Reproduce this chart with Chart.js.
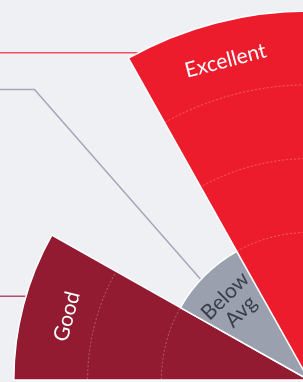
<!DOCTYPE html>
<html>
<head>
<meta charset="utf-8">
<script src="https://cdn.jsdelivr.net/npm/chart.js@4"></script>
<style>
  html, body { margin: 0; padding: 0; width: 303px; height: 382px; overflow: hidden; background: #eef0f4; }
  #wrap { position: absolute; left: -60px; top: 11px; }
</style>
</head>
<body>
<div id="wrap"><canvas id="chart" width="738" height="738"></canvas></div>
<script>
// ratings drawn as a quarter polar area, centre sits in the bottom-right corner
const categories = ['Good', 'Below Avg', 'Excellent'];
const ratings = [4, 2, 5];
const sliceAngles = [29.4, 31.3, 29.3];   // degrees per slice
const scaleMax = 5;

const fillColors = ['#921b31', '#9ba0ae', '#ed1c2c'];
const textColors = ['#ffffff', '#3b3e4b', '#ffffff'];
const leaderColors = ['#b0506a', '#a3a7b7', '#f0505c'];

const sliceDecor = {
    id: 'sliceDecor',
    beforeDatasetsDraw(chart, args, opts) {
        // leader lines running off to the left edge
        const ctx = chart.ctx;
        const arcs = chart.getDatasetMeta(0).data;
        ctx.save();
        ctx.lineWidth = 1.5;
        arcs.forEach((el, i) => {
            const p = el.getProps(['x', 'y', 'startAngle', 'endAngle', 'outerRadius'], true);
            const lead = opts.leaders[i];
            const a = p.startAngle + (p.endAngle - p.startAngle) * lead.frac;
            const sx = p.x + Math.cos(a) * p.outerRadius;
            const sy = p.y + Math.sin(a) * p.outerRadius;
            const ky = sy - lead.rise;
            const kx = sx - lead.rise / Math.tan(opts.slope * Math.PI / 180);
            ctx.strokeStyle = leaderColors[i];
            ctx.beginPath();
            ctx.moveTo(sx, sy);
            ctx.lineTo(kx, ky);
            ctx.lineTo(-100, ky);
            ctx.stroke();
        });
        ctx.restore();
    },
    afterDatasetsDraw(chart, args, opts) {
        const ctx = chart.ctx;
        const scale = chart.scales.r;
        const arcs = chart.getDatasetMeta(0).data;
        arcs.forEach((el, i) => {
            const p = el.getProps(['x', 'y', 'startAngle', 'endAngle', 'outerRadius'], true);
            // dashed rings, only inside the slice
            ctx.save();
            ctx.beginPath();
            ctx.moveTo(p.x, p.y);
            ctx.arc(p.x, p.y, p.outerRadius - 1, p.startAngle, p.endAngle);
            ctx.closePath();
            ctx.clip();
            ctx.strokeStyle = 'rgba(255,255,255,0.3)';
            ctx.lineWidth = 1;
            ctx.setLineDash([2, 2]);
            scale.ticks.forEach(t => {
                if (t.value < opts.ringFrom || t.value >= scaleMax) return;
                ctx.beginPath();
                ctx.arc(p.x, p.y, scale.getDistanceFromCenterForValue(t.value), 0, Math.PI * 2);
                ctx.stroke();
            });
            ctx.restore();

            // slice label, set along the arc
            const mid = (p.startAngle + p.endAngle) / 2;
            const lines = p.outerRadius < 200 ? categories[i].split(' ') : [categories[i]];
            const lh = 22;
            const r0 = p.outerRadius - opts.insets[i];
            ctx.save();
            ctx.translate(p.x + Math.cos(mid) * r0, p.y + Math.sin(mid) * r0);
            ctx.rotate(mid + Math.PI / 2);
            ctx.fillStyle = textColors[i];
            ctx.font = '21px Lato';
            ctx.textAlign = 'center';
            ctx.textBaseline = 'middle';
            lines.forEach((s, j) => {
                ctx.fillText(s, 0, (j - (lines.length - 1) / 2) * lh);
            });
            ctx.restore();
        });
    }
};

new Chart(document.getElementById('chart'), {
    type: 'polarArea',
    data: {
        labels: categories,
        datasets: [{
            data: ratings,
            angle: sliceAngles,
            backgroundColor: fillColors,
            borderColor: '#ffffff',
            borderWidth: 1.5
        }]
    },
    options: {
        responsive: false,
        animation: false,
        plugins: {
            legend: { display: false },
            tooltip: { enabled: false },
            sliceDecor: {
                slope: 48.8,
                ringFrom: 2,
                insets: [45, 40, 39],
                leaders: [
                    { frac: 0.56, rise: 0 },
                    { frac: 0.43, rise: 190 },
                    { frac: 0.06, rise: 0 }
                ]
            }
        },
        scales: {
            r: {
                min: 0,
                max: scaleMax,
                startAngle: 270,
                ticks: { display: false, stepSize: 1 },
                grid: { display: false },
                angleLines: { display: false },
                pointLabels: { display: false }
            }
        }
    },
    plugins: [sliceDecor]
});
</script>
</body>
</html>
